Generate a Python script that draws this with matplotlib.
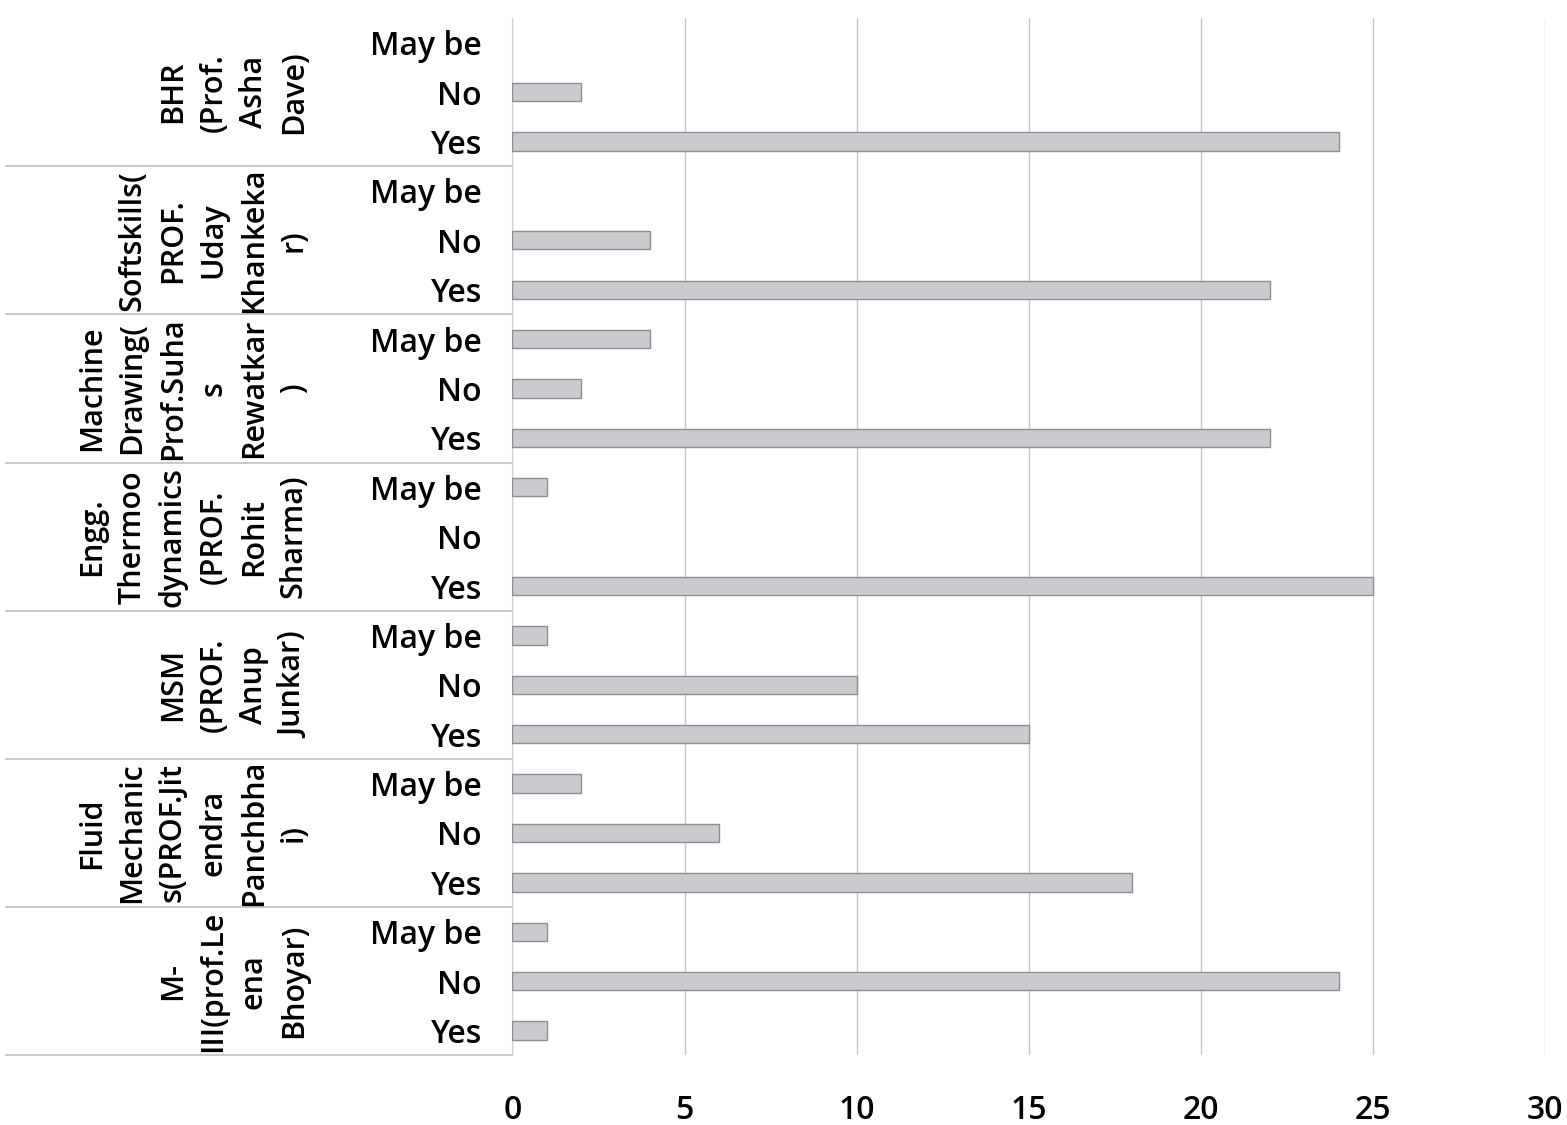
import matplotlib
matplotlib.use('Agg')
import matplotlib.pyplot as plt
import matplotlib.transforms as mtransforms

plt.rcParams['font.family'] = ['Open Sans', 'DejaVu Sans']

# groups from bottom to top, each with answers Yes / No / May be
groups = [
    'M-\nIII(prof.Le\nena\nBhoyar)',
    'Fluid\nMechanic\ns(PROF.Jit\nendra\nPanchbha\ni)',
    'MSM\n(PROF.\nAnup\nJunkar)',
    'Engg.\nThermoo\ndynamics\n(PROF.\nRohit\nSharma)',
    'Machine\nDrawing(\nProf.Suha\ns\nRewatkar\n)',
    'Softskills(\nPROF.\nUday\nKhankeka\nr)',
    'BHR\n(Prof.\nAsha\nDave)',
]
answers = ['Yes', 'No', 'May be']
yes_vals = [1, 18, 15, 25, 22, 22, 24]
no_vals = [24, 6, 10, 0, 2, 4, 2]
maybe_vals = [1, 2, 1, 1, 4, 0, 0]
x_ticks = [0, 5, 10, 15, 20, 25, 30]

labels, values = [], []
for y, n, m in zip(yes_vals, no_vals, maybe_vals):
    labels += answers
    values += [y, n, m]
pos = list(range(len(values)))

fig = plt.figure(figsize=(15.67, 11.25), dpi=100)
ax = fig.add_axes([0.327, 0.062, 0.659, 0.922])

widths = [1.0 if v > 0 else 0 for v in values]
ax.barh(pos, values, height=0.37, color='#cbcbcf', edgecolor='#8e8e92',
        linewidth=widths, zorder=3)

ax.set_xlim(0, 30)
ax.set_ylim(-0.5, len(values) - 0.5)
ax.set_xticks(x_ticks)
ax.set_xticklabels([str(t) for t in x_ticks], fontsize=23, fontweight='semibold')
ax.set_yticks(pos)
ax.set_yticklabels(labels, fontsize=23, fontweight='semibold')
ax.tick_params(axis='both', length=0)
ax.tick_params(axis='x', pad=28)
ax.tick_params(axis='y', pad=22)
ax.grid(axis='x', color='#c8c8c8', linewidth=1.0, zorder=0)
for side in ['top', 'right', 'bottom']:
    ax.spines[side].set_visible(False)
ax.spines['left'].set_color('#d0d0d0')

# group labels and separators on the category axis
trans = mtransforms.blended_transform_factory(ax.transAxes, ax.transData)
for i, g in enumerate(groups):
    ax.text(-0.197, 3 * i + 1, g, transform=trans, rotation=90,
            ha='right', va='center', multialignment='center',
            fontsize=22, fontweight='semibold', linespacing=1.45)
    ax.plot([-0.49, 0], [3 * i - 0.5, 3 * i - 0.5], transform=trans,
            color='#c0c0c0', linewidth=1.2, clip_on=False)

fig.savefig('out.png', dpi=100)
